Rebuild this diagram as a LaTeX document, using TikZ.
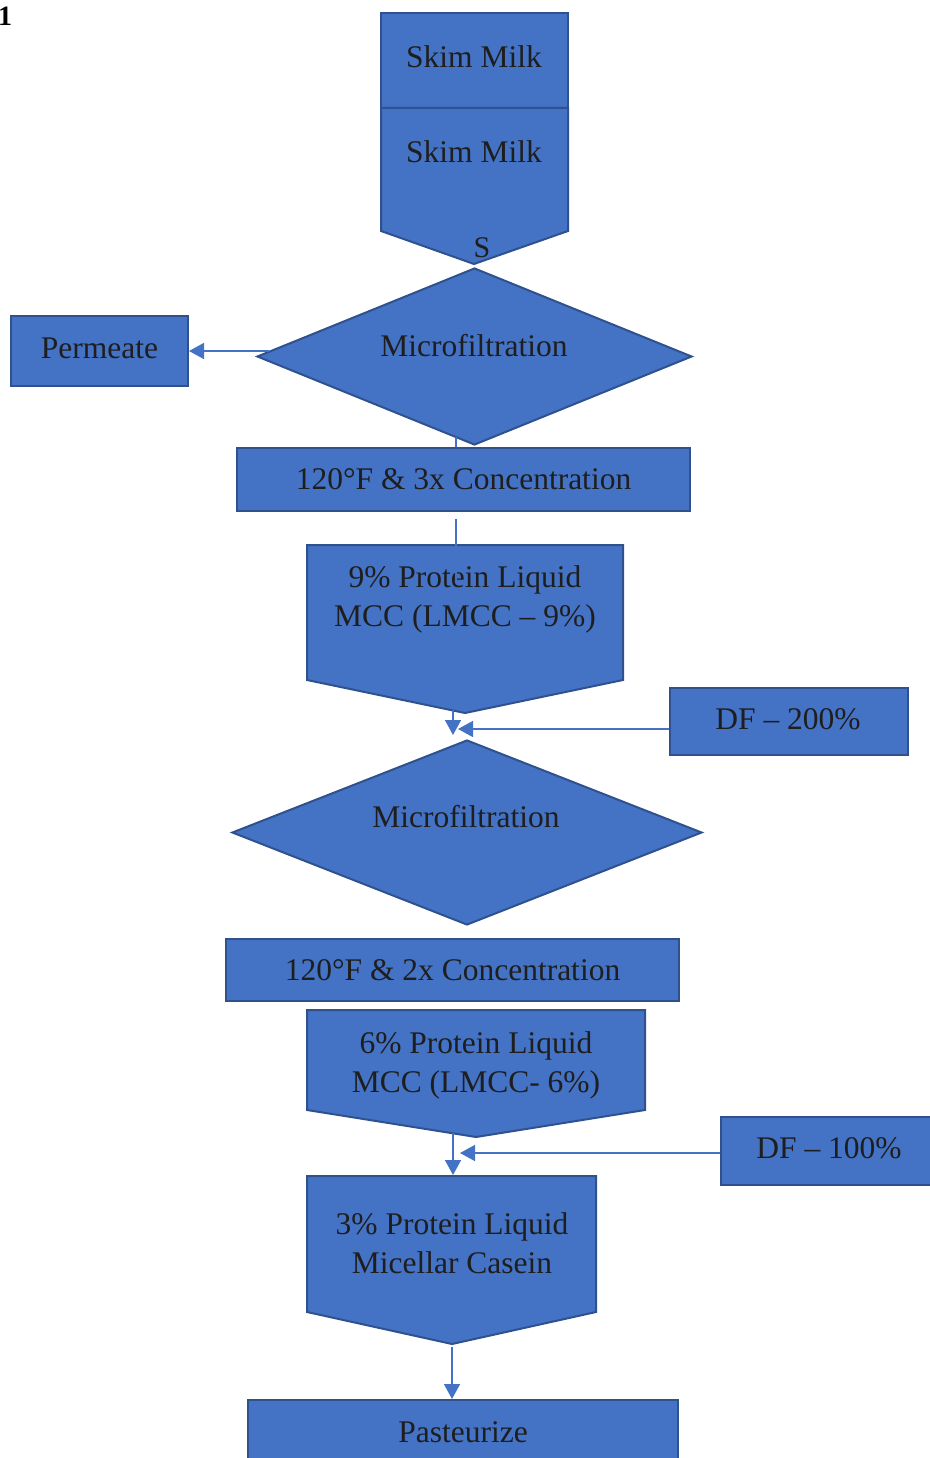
\documentclass[tikz,border=0pt]{standalone}
\usepackage{fontspec}
\setmainfont{Liberation Serif}
\usetikzlibrary{arrows.meta,shapes.geometric}

\definecolor{boxblue}{HTML}{4472C4}
\definecolor{edgeblue}{HTML}{2F528F}
\definecolor{inkgrey}{HTML}{1E1E1E}

\tikzset{
  shapebox/.style={fill=boxblue,draw=edgeblue,line width=2pt},
  rectbox/.style={shapebox,rectangle,inner sep=0pt},
  decision/.style={shapebox,diamond,inner sep=0pt},
  boxtext/.style={text=inkgrey,font=\fontsize{31.5}{39}\selectfont,align=center},
  flow/.style={draw=boxblue,line width=1.5pt},
}

\begin{document}
\begin{tikzpicture}[x=1pt,y=-1pt]
\useasboundingbox (0,0) rectangle (929,1458);
\begin{scope}[>={Triangle[length=15pt,width=16pt]}]

    % figure number
    \node[text=black,font=\bfseries\fontsize{28}{28}\selectfont,anchor=west,inner sep=0pt] (fignum) at (-2,16) {1};

    % skim milk
    \node[rectbox,minimum width=187,minimum height=95] (skim) at (474.5,60.5) {};
    \node[boxtext] (skimtext) at (474,57) {Skim Milk};
    \draw[shapebox] (381,108) -- (568,108) -- (568,231) -- (474,264) coordinate (skimtip) -- (381,231) -- cycle;
    \node[boxtext] (skimtwo) at (474,152) {Skim Milk};
    \node[boxtext,font=\fontsize{30}{30}\selectfont,inner sep=0pt] (sletter) at (482,248) {S};

    % first microfiltration
    \node[decision,minimum width=435,minimum height=177] (mfone) at (474.5,356.5) {};
    \node[boxtext] (mfonetext) at (474,346) {Microfiltration};
    \node[rectbox,minimum width=177,minimum height=70] (perm) at (99.5,351) {};
    \node[boxtext] (permtext) at (99.5,348) {Permeate};
    \draw[flow,->] ([xshift=13pt]perm.east -| mfone.west) -- (perm.east);
    \coordinate (mfonedrop) at (456,437);

    \node[rectbox,boxtext,minimum width=453,minimum height=63] (conc3) at (463.5,479.5) {120°F \& 3x Concentration};
    \draw[flow] (mfonedrop) -- (mfonedrop |- conc3.north);

    % 9% liquid MCC
    \draw[shapebox] (307,545) -- (623,545) -- (623,680) -- (465,713) coordinate (lmccninetip) -- (307,680) -- cycle;
    \node[boxtext] (lmccnine) at (465,599.5) {9\% Protein Liquid\\MCC (LMCC -- 9\%)};
    \coordinate (concthreeout) at (456,519);
    \coordinate (concthreeend) at (456,583);
    \draw[flow] (concthreeout) -- (concthreeend);

    % diafiltration 200
    \node[rectbox,minimum width=238,minimum height=67] (dftwo) at (789,721.5) {};
    \node[boxtext] (dftwotext) at (788,719) {DF -- 200\%};
    \coordinate (ninedrop) at (453,710);
    \coordinate (ninejoin) at (453,735);
    \coordinate (dftwojoin) at (458,729);
    \draw[flow,->] (ninedrop) -- (ninejoin);
    \draw[flow,->] ([yshift=-7.5pt]dftwo.west) -- (dftwojoin);

    % second microfiltration
    \node[decision,minimum width=470,minimum height=185] (mftwo) at (467,832.5) {};
    \node[boxtext] (mftwotext) at (466,817) {Microfiltration};

    \node[rectbox,boxtext,minimum width=453,minimum height=62] (conc2) at (452.5,970) {120°F \& 2x Concentration};

    % 6% liquid MCC
    \draw[shapebox] (307,1010) -- (645,1010) -- (645,1110) -- (476,1137) coordinate (lmccsixtip) -- (307,1110) -- cycle;
    \node[boxtext] (lmccsix) at (476,1065) {6\% Protein Liquid\\MCC (LMCC- 6\%)};

    % diafiltration 100
    \node[rectbox,minimum width=219,minimum height=68] (dfone) at (830.5,1151) {};
    \node[boxtext] (dfonetext) at (829,1148) {DF -- 100\%};

    % 3% micellar casein
    \draw[shapebox] (307,1176) -- (596,1176) -- (596,1312) -- (452,1344) coordinate (caseintip) -- (307,1312) -- cycle;
    \node[boxtext] (casein) at (452,1243.5) {3\% Protein Liquid\\Micellar Casein};
    \coordinate (sixdrop) at (453,1133);
    \coordinate (caseintop) at (453,1175);
    \coordinate (dfonejoin) at (460,1153);
    \draw[flow,->] (sixdrop) -- (caseintop);
    \draw[flow,->] ([yshift=-2pt]dfone.west) -- (dfonejoin);

    % pasteurize
    \node[rectbox,minimum width=430,minimum height=70] (past) at (463,1435) {};
    \node[boxtext] (pasttext) at (463,1432) {Pasteurize};
    \draw[flow,->] ([yshift=-3pt]caseintip) -- (caseintip |- past.north);

\end{scope}
\end{tikzpicture}
\end{document}
